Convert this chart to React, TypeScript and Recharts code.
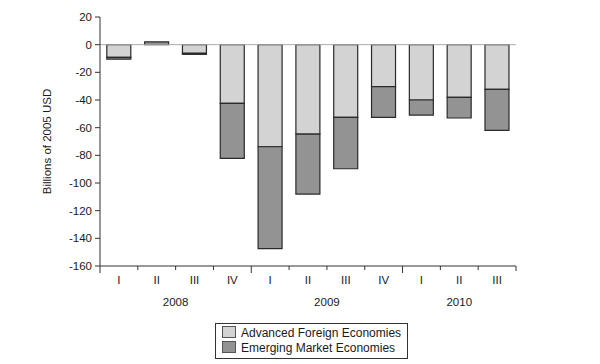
import React from "react";
import { BarChart, Bar, XAxis, YAxis, ReferenceLine } from "recharts";

// quarterly change, billions of 2005 USD
const quarters = ["I", "II", "III", "IV", "I", "II", "III", "IV", "I", "II", "III"];
const years = ["2008", "2008", "2008", "2008", "2009", "2009", "2009", "2009", "2010", "2010", "2010"];
const advanced = [-9.2, 0, -6.2, -42.5, -73.8, -64.6, -52.6, -30.4, -40, -38.1, -32.3];
const emerging = [-1.3, 2, -0.8, -39.7, -73.6, -43.4, -37.1, -22.2, -10.9, -14.9, -29.7];
const yTicks = [20, 0, -20, -40, -60, -80, -100, -120, -140, -160];

const data = quarters.map((q, i) => ({
  key: `${years[i]}-${q}`,
  advanced: advanced[i],
  emerging: emerging[i],
}));

const FONT = "'Liberation Sans', Arial, sans-serif";
const LIGHT = "#d3d3d3";
const DARK = "#939393";
const EDGE = "#2a2a2a";
const INK = "#1a1a1a";

// where each year's label goes: middle of its run of quarters
function yearSpot(i: number) {
  const y = years[i];
  const first = years.indexOf(y);
  const count = years.filter((v) => v === y).length;
  const mid = first + Math.floor((count - 1) / 2);
  if (i !== mid) return null;
  return count % 2 === 0 ? "between" : "center";
}

function QuarterTick(props: any) {
  const { x, y, payload } = props;
  const i = payload.index;
  const half = payload.offset || 0;
  const startsYear = i === 0 || years[i] !== years[i - 1];
  const spot = yearSpot(i);
  return (
    <g>
      <line x1={x - half} x2={x - half} y1={y} y2={y + (startsYear ? 7 : 4)} stroke="#333" />
      {i === quarters.length - 1 && (
        <line x1={x + half} x2={x + half} y1={y} y2={y + 5} stroke="#333" />
      )}
      <text x={x} y={y + 18} textAnchor="middle" fontSize={11.5} fill={INK} fontFamily={FONT}>
        {quarters[i]}
      </text>
      {spot && (
        <text
          x={spot === "between" ? x + half : x}
          y={y + 40}
          textAnchor="middle"
          fontSize={11.5}
          fill={INK}
          fontFamily={FONT}
        >
          {years[i]}
        </text>
      )}
    </g>
  );
}

function YLabel(props: any) {
  const { viewBox } = props;
  const cx = viewBox.x + 47;
  const cy = viewBox.y + viewBox.height / 2;
  return (
    <text
      x={cx}
      y={cy}
      transform={`rotate(-90 ${cx} ${cy})`}
      textAnchor="middle"
      dominantBaseline="central"
      fontSize={11.5}
      fill={INK}
      fontFamily={FONT}
    >
      Billions of 2005 USD
    </text>
  );
}

function Swatch({ color }: { color: string }) {
  return (
    <span
      style={{
        display: "inline-block",
        width: 12,
        height: 10,
        background: color,
        border: "1px solid #555",
        marginRight: 5,
        verticalAlign: "-1px",
      }}
    />
  );
}

export default function App() {
  return (
    <div style={{ position: "absolute", left: 0, top: 0, width: 600, height: 364, background: "#fff", fontFamily: FONT }}>
      <BarChart
        width={600}
        height={364}
        data={data}
        margin={{ top: 17, right: 84, bottom: 48, left: 0 }}
        barCategoryGap="18%"
        stackOffset="sign"
      >
        <XAxis
          dataKey="key"
          height={50}
          axisLine={{ stroke: "#333" }}
          tickLine={false}
          tickSize={0}
          tickMargin={0}
          interval={0}
          tick={<QuarterTick />}
        />
        <XAxis xAxisId="top" dataKey="key" orientation="top" height={0} tick={false} tickLine={false} axisLine={{ stroke: "#444" }} />
        <YAxis
          width={100}
          domain={[-160, 20]}
          ticks={yTicks}
          interval={0}
          axisLine={{ stroke: "#333" }}
          tickLine={{ stroke: "#333" }}
          tickSize={5}
          tickMargin={3}
          tick={{ fill: INK, fontSize: 11.5, fontFamily: FONT }}
          label={<YLabel />}
        />
        <YAxis yAxisId="frame" orientation="right" width={0} domain={[-160, 20]} tick={false} tickLine={false} axisLine={{ stroke: "#444" }} />
        <ReferenceLine y={0} stroke="#aaa" />
        <Bar dataKey="advanced" stackId="a" fill={LIGHT} stroke={EDGE} strokeWidth={1.2} isAnimationActive={false} />
        <Bar dataKey="emerging" stackId="a" fill={DARK} stroke={EDGE} strokeWidth={1.2} isAnimationActive={false} />
      </BarChart>
      <div
        style={{
          position: "absolute",
          left: 215,
          top: 323,
          padding: "2px 6px 2px 6px",
          border: "1px solid #333",
          fontSize: 12,
          lineHeight: "15px",
          color: INK,
          background: "#fff",
          whiteSpace: "nowrap",
        }}
      >
        <div>
          <Swatch color={LIGHT} />
          Advanced Foreign Economies
        </div>
        <div>
          <Swatch color={DARK} />
          Emerging Market Economies
        </div>
      </div>
    </div>
  );
}
